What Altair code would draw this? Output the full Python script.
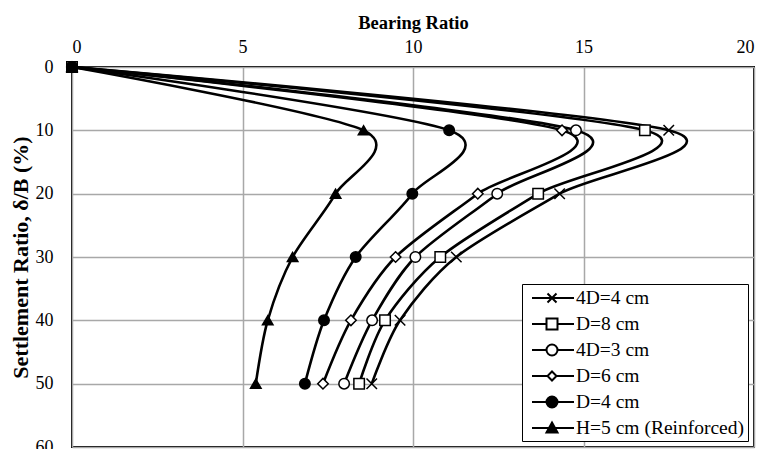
import altair as alt
import pandas as pd

series = ["4D=4 cm", "D=8 cm", "4D=3 cm", "D=6 cm", "D=4 cm", "H=5 cm (Reinforced)"]
settlement = [0, 10, 20, 30, 40, 50]
br_4d4 = [0, 17.5, 14.3, 11.27, 9.62, 8.79]
br_d8 = [0, 16.8, 13.67, 10.8, 9.18, 8.42]
br_4d3 = [0, 14.78, 12.47, 10.07, 8.8, 7.98]
br_d6 = [0, 14.37, 11.9, 9.49, 8.18, 7.36]
br_d4 = [0, 11.06, 9.98, 8.32, 7.39, 6.83]
br_h5 = [0, 8.55, 7.73, 6.47, 5.74, 5.39]
x_ticks = [0, 5, 10, 15, 20]
y_ticks = [0, 10, 20, 30, 40, 50, 60]

rows = []
for name, vals in zip(series, [br_4d4, br_d8, br_4d3, br_d6, br_d4, br_h5]):
    for s, b in zip(settlement, vals):
        rows.append({"series": name, "settlement": s, "bearing": b})
df = pd.DataFrame(rows)

FONT = "Liberation Serif"

# chart marker shapes
chart_shapes = ["M-1,-1L1,1M-1,1L1,-1", "square", "circle", "diamond", "circle", "triangle-up"]
fills = ["transparent", "white", "white", "white", "black", "black"]
strokes = ["black"] * 6

# legend shapes (line + marker), units of 10px
c = 1.0
r = 0.55
L0, L1 = -1, 3.2
legend_shapes = [
    f"M{L0},0H{L1}M{c-0.45},-0.45L{c+0.45},0.45M{c-0.45},0.45L{c+0.45},-0.45",
    f"M{L0},0H{c-r}M{c+r},0H{L1}M{c-r},-{r}H{c+r}V{r}H{c-r}Z",
    f"M{L0},0H{c-r}M{c+r},0H{L1}M{c+r},0A{r},{r} 0 1,1 {c-r},0A{r},{r} 0 1,1 {c+r},0Z",
    f"M{L0},0H{c-0.45}M{c+0.45},0H{L1}M{c},-0.45L{c+0.45},0L{c},0.45L{c-0.45},0Z",
    f"M{L0},0H{L1}M{c+r},0A{r},{r} 0 1,1 {c-r},0A{r},{r} 0 1,1 {c+r},0Z",
    f"M{L0},0H{L1}M{c},-{r}L{c+r},{r*0.8}L{c-r},{r*0.8}Z",
]

x_enc = alt.X(
    "bearing:Q",
    scale=alt.Scale(domain=[0, 20], nice=False, zero=False),
    axis=alt.Axis(
        orient="top", values=x_ticks, title="Bearing Ratio", format="d",
        labelPadding=11, titlePadding=6, labelFontSize=18, titleFontSize=18.5,
    ),
)
y_enc = alt.Y(
    "settlement:Q",
    scale=alt.Scale(domain=[0, 60], reverse=True, nice=False, zero=False),
    axis=alt.Axis(
        values=y_ticks, title="Settlement Ratio, δ/B (%)", format="d",
        labelPadding=19, titlePadding=3, labelFontSize=18, titleFontSize=22,
    ),
)

base = alt.Chart(df)

lines = base.mark_line(
    interpolate="cardinal", tension=0.15, color="black", strokeWidth=2.6
).encode(x=x_enc, y=y_enc, detail="series:N", order="settlement:Q")

points = base.mark_point(size=110, filled=True, stroke="black", strokeWidth=1.5, opacity=1).encode(
    x=x_enc,
    y=y_enc,
    shape=alt.Shape("series:N", scale=alt.Scale(domain=series, range=chart_shapes), legend=None),
    fill=alt.Fill("series:N", scale=alt.Scale(domain=series, range=fills), legend=None),
)

leg = alt.Legend(
    title=None, orient="bottom-right", offset=6, padding=3,
    strokeColor="black", fillColor="white",
    labelFont=FONT, labelFontSize=19.5, labelColor="black", labelLimit=400,
    symbolSize=400, symbolStrokeWidth=2, symbolStrokeColor="black",
    symbolOffset=6, labelOffset=23, rowPadding=5,
)

legend_layer = base.transform_filter("false").mark_point(
    size=400, filled=True, strokeWidth=2, opacity=1
).encode(
    x=x_enc,
    y=y_enc,
    shape=alt.Shape("series:N", scale=alt.Scale(domain=series, range=legend_shapes), legend=leg),
    fill=alt.Fill("series:N", scale=alt.Scale(domain=series, range=fills), legend=leg),
    stroke=alt.Stroke("series:N", scale=alt.Scale(domain=series, range=strokes), legend=leg),
)

chart = (
    alt.layer(lines, points, legend_layer)
    .resolve_scale(shape="independent", fill="independent", stroke="independent")
    .properties(
        width=682, height=380,
        autosize=alt.AutoSizeParams(type="none"),
        padding={"left": 64, "top": 59, "right": 2, "bottom": 2},
    )
    .configure_view(stroke="black", strokeWidth=2)
    .configure_axis(
        grid=True, gridColor="#a8a8a8", gridWidth=1.5, domain=False, ticks=False,
        labelFont=FONT, labelColor="black",
        titleFont=FONT, titleFontWeight="bold", titleColor="black",
    )
)

chart.save("out.html", embed_options={"renderer": "svg", "actions": False})
